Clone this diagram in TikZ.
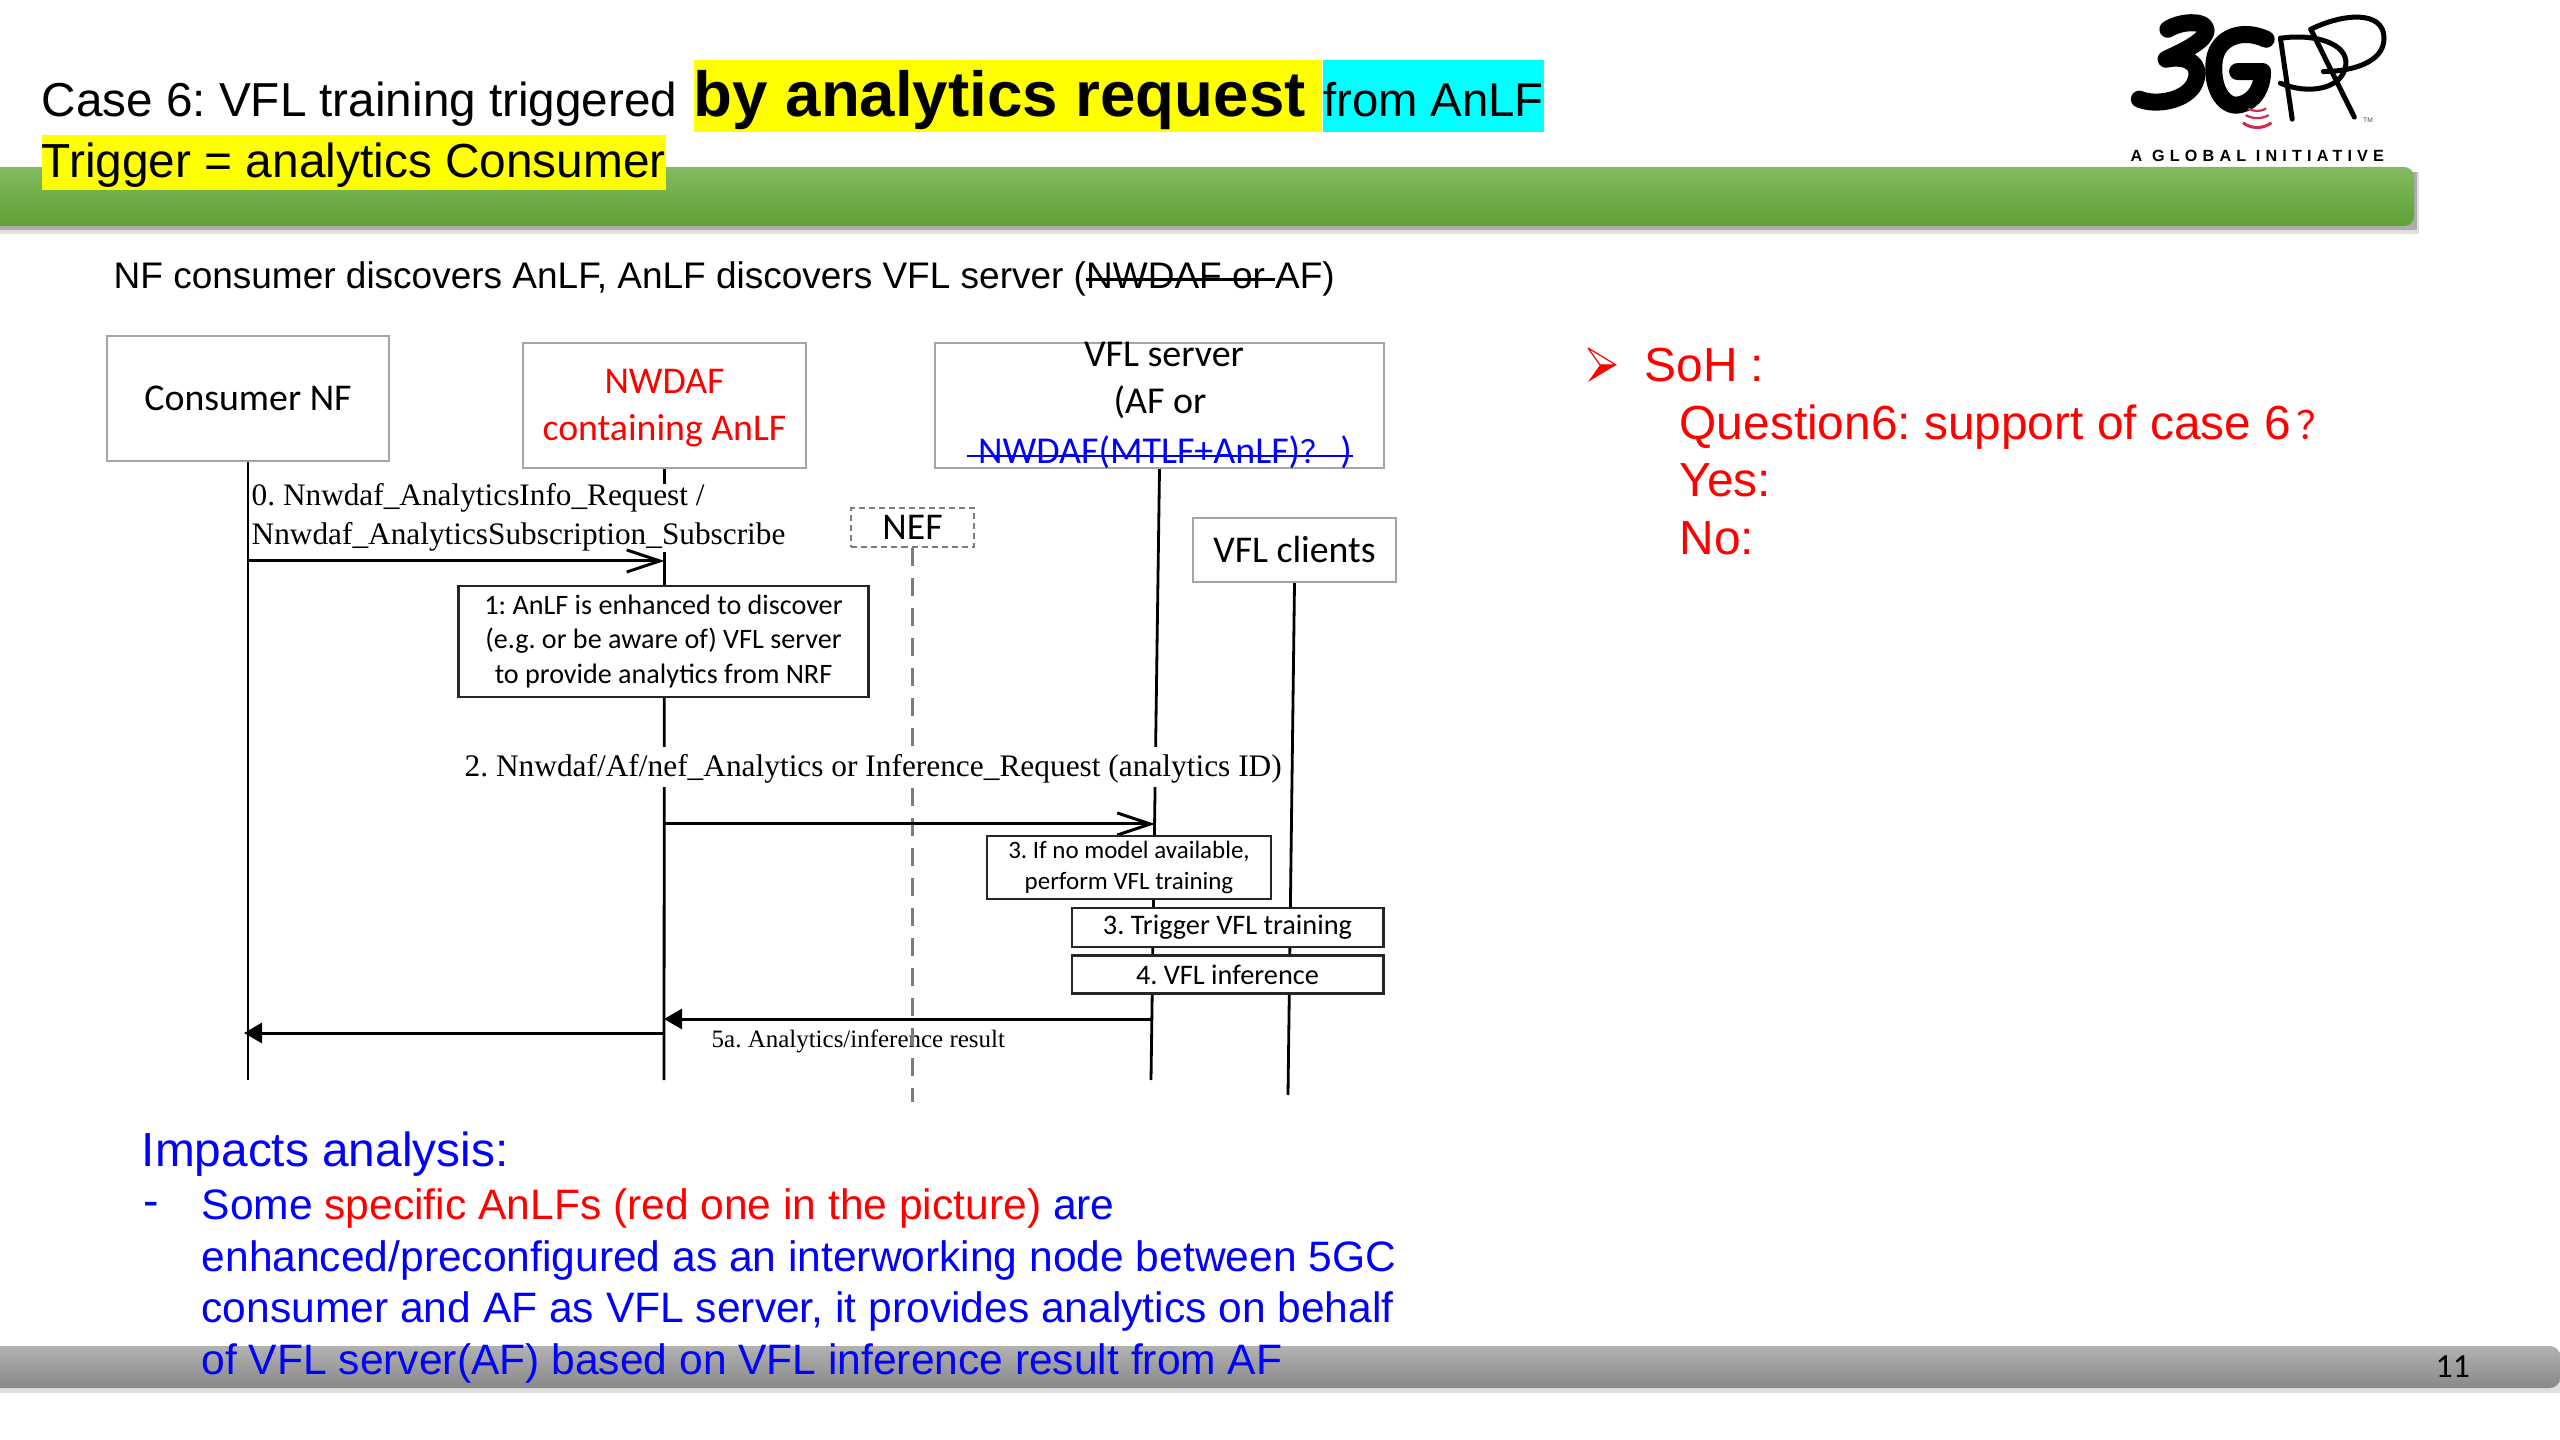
\documentclass[tikz,border=0pt]{standalone}
\usepackage{fontspec}
\usepackage{tikz}
\usetikzlibrary{arrows.meta, positioning}
\setmainfont{Liberation Sans}
\newfontfamily\carlitofont{Carlito}
\newfontfamily\timesfont{Liberation Serif}
\newfontfamily\cjkfont{Noto Sans CJK SC}
\newcommand{\struck}[1]{\leavevmode\setbox0=\hbox{#1}\rlap{\rule[0.22em]{\wd0}{0.07em}}\box0}
\definecolor{barGreenTop}{RGB}{130, 186, 98}
\definecolor{barGreenMid}{RGB}{108, 176, 62}
\definecolor{barGreenBottom}{RGB}{94, 162, 50}
\definecolor{barGrayTop}{RGB}{178, 178, 178}
\definecolor{barGrayBottom}{RGB}{136, 136, 136}
\definecolor{boxGray}{RGB}{165, 165, 165}
\definecolor{nefGray}{RGB}{125, 125, 125}
\definecolor{logoRed}{RGB}{205, 45, 75}
\definecolor{markYellow}{RGB}{255, 255, 0}
\definecolor{markCyan}{RGB}{0, 255, 255}
\definecolor{textRed}{RGB}{255, 0, 0}
\definecolor{textBlue}{RGB}{0, 0, 255}

\begin{document}
\frenchspacing
\begin{tikzpicture}[
    x=0.01cm, y=-0.01cm,
    % Header box style
    entity/.style={
        draw=boxGray,
        fill=white,
        line width=0.02cm,
        inner sep=0pt,
        font=\carlitofont\fontsize{10.75}{13}\selectfont
    },
    % Box on a lifeline
    stepbox/.style={
        draw=black!85,
        fill=white,
        line width=0.028cm,
        inner sep=0pt,
        align=center,
        font=\carlitofont\fontsize{#1}{9.9}\selectfont
    },
    % Line styles
    lifeline/.style={line width=0.028cm, draw=black},
    openmsg/.style={-{Straight Barb[length=0.33cm,width=0.22cm]}, line width=0.03cm},
    filledmsg/.style={-{Triangle[length=0.18cm,width=0.2cm]}, line width=0.03cm},
    % Text styles
    plain/.style={inner sep=0pt, anchor=base west, font=\fontsize{#1}{16}\selectfont},
    hilite/.style={inner xsep=0pt, inner ysep=0pt, anchor=base west, text height=#1},
    msglabel/.style={inner sep=0pt, font=\timesfont\fontsize{#1}{11.1}\selectfont},
    logostroke/.style={draw=black, line width=#1, line cap=round, line join=round}
]
\useasboundingbox (0,0) rectangle (2560,1440);

% ============================================
% BARS
% ============================================
\fill[black!12] (0,172) rectangle (2419,234);
\fill[black!32] (0,172) rectangle (2417,230);
\shade[top color=barGreenTop, middle color=barGreenMid, bottom color=barGreenBottom, rounded corners=0.1cm]
    (-20,167) -- (2414,167) -- (2414,226) -- (-20,226) -- cycle;
\fill[black!12] (0,1352) rectangle (2560,1393);
\shade[top color=barGrayTop, bottom color=barGrayBottom, rounded corners=0.1cm]
    (-20,1346) -- (2560,1346) -- (2560,1388) -- (-20,1388) -- cycle;

% ============================================
% TITLE
% ============================================
\node[plain=13.55] (title) at (41,117) {Case 6: VFL training triggered};
\node[hilite=0.57cm, text depth=0.15cm, fill=markYellow,
      font=\bfseries\fontsize{18.1}{20}\selectfont] (titlebold) at (693,117) {by analytics request\kern0.16cm};
\node[hilite=0.57cm, text depth=0.15cm, fill=markCyan, font=\fontsize{13.45}{16}\selectfont] (titlefrom) at (titlebold.base east)
    {from AnLF};
\node[hilite=0.43cm, text depth=0.12cm, fill=markYellow, font=\fontsize{13.6}{16}\selectfont] (trigger) at (41,178) {Trigger = analytics Consumer};
\node[plain=10.52] (discover) at (113,289) {NF consumer discovers AnLF, AnLF discovers VFL server (\struck{NWDAF or }AF)};

% ============================================
% LOGO
% ============================================
\begin{scope}[shift={(2000,0)}, x=0.00357cm, y=-0.00333cm]
    % 3
    \draw[logostroke=0.17cm] (470,88) .. controls (510,60) and (590,60) .. (575,100)
        .. controls (565,130) and (500,160) .. (465,178)
        .. controls (520,165) and (570,190) .. (545,250)
        .. controls (525,300) and (440,320) .. (390,298);
    % G
    \draw[logostroke=0.17cm] (745,118) .. controls (680,85) and (610,110) .. (600,180)
        .. controls (590,260) and (625,325) .. (670,315)
        .. controls (715,305) and (735,260) .. (735,215) -- (665,215);
    % P P
    \draw[logostroke=0.05cm] (785,115) -- (818,358);
    \draw[logostroke=0.05cm] (785,115) .. controls (880,100) and (975,130) .. (968,195)
        .. controls (960,270) and (860,285) .. (785,250);
    \draw[logostroke=0.05cm] (870,88) -- (992,352);
    \draw[logostroke=0.05cm] (870,88) .. controls (960,40) and (1075,30) .. (1075,115)
        .. controls (1075,190) and (980,215) .. (905,215);
    % signal arcs
    \draw[draw=logoRed, line width=0.022cm] (695,326) .. controls (710,336) and (730,336) .. (745,326);
    \draw[draw=logoRed, line width=0.022cm] (688,346) .. controls (708,358) and (732,358) .. (752,346);
    \draw[draw=logoRed, line width=0.03cm] (680,369) .. controls (705,388) and (735,388) .. (760,369);
\end{scope}
\node[inner sep=0pt, font=\fontsize{1.9}{2}\selectfont, text=black!70] (logotm) at (2368,120) {TM};
\node[plain=4.6, font=\bfseries\addfontfeatures{LetterSpace=32}\fontsize{4.6}{6}\selectfont] (logotext) at (2130,162) {A GLOBAL INITIATIVE};

% ============================================
% HEADER BOXES
% ============================================
\node[entity, minimum width=2.82cm, minimum height=1.25cm] (consumer) at (248,398.5) {Consumer NF};
\node[entity, minimum width=2.83cm, minimum height=1.25cm, text=textRed, align=center] (nwdaf) at (664.5,405.5)
    {\rule{0pt}{0.29cm}NWDAF\\[0.01cm]containing AnLF};
\node[entity, minimum width=4.49cm, minimum height=1.25cm] (server) at (1159.5,405.5) {};
\node[entity, minimum width=2.03cm, minimum height=0.64cm] (clients) at (1294.5,550) {VFL clients};
\node[entity, minimum width=1.22cm, minimum height=0.39cm, draw=nefGray, dash pattern=on 0.06cm off 0.04cm] (nef) at (912.5,527.5) {NEF};

% Server box text (runs over the box edges)
\node[inner sep=0pt, anchor=base, font=\carlitofont\fontsize{10.8}{13}\selectfont] (servername) at (1164,367) {VFL server};
\node[inner sep=0pt, anchor=base, font=\carlitofont\fontsize{10.8}{13}\selectfont] (serveraf) at (1160,414) {(AF or};
\node[inner sep=0pt, anchor=base, text=textBlue, font=\carlitofont\fontsize{10.8}{13}\selectfont] (serverold) at (1165,464)
    {NWDAF(MTLF+AnLF){\cjkfont\fontsize{9}{10}\selectfont ？} )};
\draw[textBlue, line width=0.028cm] ([shift={(-10,-8)}]serverold.base west) -- ([shift={(0,-8)}]serverold.base east);

% ============================================
% LIFELINE ENDS
% ============================================
\coordinate (consumerend) at (248,1080);
\coordinate (nwdafend) at (664,1080);
\coordinate (serverend) at (1151,1080);
\coordinate (clientsend) at (1288,1095);
\coordinate (nefend) at (912.5,1102);

% Lifelines
\draw[lifeline] (consumer.south) -- (consumerend);
\draw[lifeline] (nwdaf.south) -- (nwdafend);
\draw[lifeline] (server.south) -- (serverend);
\draw[lifeline] (clients.south) -- (clientsend);

% ============================================
% MESSAGES AND STEPS
% ============================================
% Message 0
\node[msglabel=8.9, fill=white, anchor=north west, align=left] (msgzero) at (251,483)
    {0. Nnwdaf\_AnalyticsInfo\_Request /\\Nnwdaf\_AnalyticsSubscription\_Subscribe};
\coordinate (zerostart) at (248,561);
\draw[openmsg] (zerostart) -- (nwdaf.south |- zerostart);

% Step 1
\node[stepbox=8.0, minimum width=4.09cm, minimum height=1.11cm] (stepone) at (663.5,641.5)
    {1: AnLF is enhanced to discover\\(e.g. or be aware of) VFL server\\to provide analytics from NRF};

% Result label sits under the NEF line
\node[msglabel=7.1, anchor=base west] (msgfive) at (711,1047) {5a. Analytics/inference result};
\draw[draw=nefGray, line width=0.032cm, dash pattern=on 0.18cm off 0.12cm] (nef.south) -- (nefend);

% Message 2
\node[msglabel=8.92, fill=white, anchor=base west, text height=0.3cm, text depth=0.1cm] (msgtwo) at (464,777)
    {2. Nnwdaf/Af/nef\_Analytics or Inference\_Request (analytics ID)};
\coordinate (twostart) at (664,824);
\coordinate (twoend) at (1155,824);
\draw[openmsg] (twostart) -- (twoend);

% Steps on the VFL lifelines
\node[stepbox=7.1, minimum width=2.84cm, minimum height=0.63cm, font=\carlitofont\fontsize{7.1}{8.8}\selectfont] (stepthree) at (1129,867.5)
    {3. If no model available,\\perform VFL training};
\node[stepbox=8.05, minimum width=3.11cm, minimum height=0.39cm] (steptrain) at (1227.5,927.5) {3. Trigger VFL training};
\node[stepbox=8.05, below=0.06cm of steptrain, minimum width=3.11cm, minimum height=0.38cm] (stepinfer) {4. VFL inference};

% Results
\coordinate (fivestart) at (1153,1019);
\coordinate (fivemid) at (664,1033);
\coordinate (fiveend) at (244,1033);
\draw[filledmsg] (fivestart) -- (nwdafend |- fivestart);
\draw[filledmsg] (fivemid) -- (fiveend);

% ============================================
% SOH TEXT
% ============================================
% Bullet: outlined upper half, filled lower half
\draw[textRed, line width=0.012cm, line join=round] (1588,348) -- (1616,365) -- (1600,365) -- cycle;
\fill[textRed] (1588,382) -- (1616,365) -- (1600,365) -- cycle;
\node[plain=13.6, text=textRed] (soh) at (1644,382) {SoH :};
\node[plain=13.6, text=textRed] (question) at (1679,440) {Question6: support of case 6\kern0.05cm{\cjkfont\fontsize{11}{14}\selectfont ？}};
\node[plain=13.6, text=textRed] (sohyes) at (1679,497) {Yes:};
\node[plain=13.6, text=textRed] (sohno) at (1679,555) {No:};

% ============================================
% IMPACTS TEXT
% ============================================
\node[plain=13.6, text=textBlue] (impacts) at (141,1166) {Impacts analysis:};
\node[plain=13.2, text=textBlue] (impactsdash) at (143,1216) {-};
\node[inner sep=0pt, anchor=north west, text=textBlue, align=left, font=\fontsize{12.1}{14.65}\selectfont] (impactsbody) at (201,1188)
    {Some \textcolor{textRed}{specific AnLFs (red one in the picture)} are\\
     enhanced/preconfigured as an interworking node between 5GC\\
     consumer and AF as VFL server, it provides analytics on behalf\\
     of VFL server(AF) based on VFL inference result from AF};
\node[inner sep=0pt, anchor=base west, font=\carlitofont\fontsize{9.6}{12}\selectfont] (pagenum) at (2435,1377) {11};

\end{tikzpicture}
\end{document}
